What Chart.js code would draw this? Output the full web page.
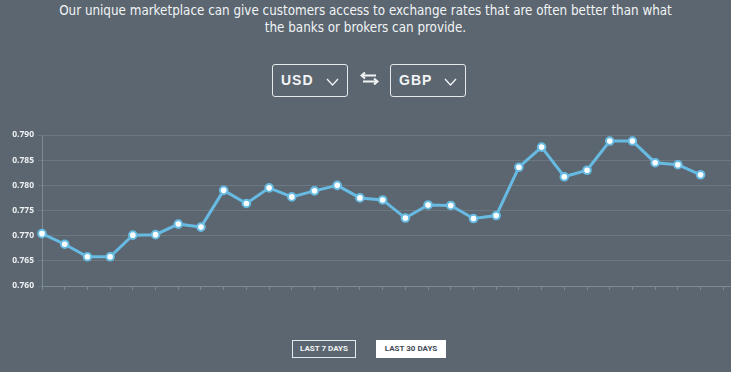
<!DOCTYPE html>
<html>
<head>
<meta charset="utf-8">
<script src="https://cdn.jsdelivr.net/npm/chart.js@4"></script>
<style>
    html, body {
        margin: 0;
        padding: 0;
        width: 731px;
        height: 372px;
        overflow: hidden;
        background: #5b6670;
        font-family: "Liberation Sans Narrow", "DejaVu Sans Condensed", sans-serif;
        color: #f2f4f5;
    }
    .intro {
        position: absolute;
        left: 0;
        top: 2px;
        width: 731px;
        text-align: center;
        font-size: 14px;
        line-height: 17px;
        transform: scaleX(0.95);
        transform-origin: 365px 0;
    }
    .picker {
        position: absolute;
        top: 64px;
        width: 74px;
        height: 31px;
        border: 1px solid #e6e9eb;
        border-radius: 3px;
        font-family: "Liberation Sans", Arial, sans-serif;
        font-weight: bold;
        font-size: 14px;
        letter-spacing: 1px;
    }
    .picker span {
        position: absolute;
        left: 8px;
        top: 7px;
    }
    .picker svg {
        position: absolute;
        left: 53px;
        top: 13px;
    }
    #swap {
        position: absolute;
        left: 360px;
        top: 72px;
    }
    .btn {
        position: absolute;
        top: 340px;
        height: 16px;
        line-height: 16px;
        text-align: center;
        font-family: Roboto, "Liberation Sans", sans-serif;
        font-weight: bold;
        font-size: 8px;
        border: 1px solid #e6e9eb;
    }
    #chartWrap {
        position: absolute;
        left: 0;
        top: 120px;
    }
</style>
</head>
<body>
<div class="intro">Our unique marketplace can give customers access to exchange rates that are often better than what<br>the banks or brokers can provide.</div>

<div class="picker" style="left:272px"><span>USD</span>
    <svg width="13" height="8" viewBox="0 0 13 8"><path d="M1 1 L6.5 7 L12 1" fill="none" stroke="#f2f4f5" stroke-width="1.3"/></svg>
</div>
<svg id="swap" width="19" height="13" viewBox="0 0 19 13">
    <path d="M3 3.5 H16" stroke="#f2f4f5" stroke-width="2" fill="none"/>
    <path d="M5 0.5 L1.5 3.5 L5 6.5" stroke="#f2f4f5" stroke-width="2" fill="none"/>
    <path d="M3 9.5 H16" stroke="#f2f4f5" stroke-width="2" fill="none"/>
    <path d="M14 6.5 L17.5 9.5 L14 12.5" stroke="#f2f4f5" stroke-width="2" fill="none"/>
</svg>
<div class="picker" style="left:390px"><span>GBP</span>
    <svg width="13" height="8" viewBox="0 0 13 8"><path d="M1 1 L6.5 7 L12 1" fill="none" stroke="#f2f4f5" stroke-width="1.3"/></svg>
</div>

<div id="chartWrap"><canvas id="rateChart" width="752" height="180"></canvas></div>

<div class="btn" style="left:292px; width:62px; color:#f2f4f5;">LAST 7 DAYS</div>
<div class="btn" style="left:376px; width:68px; background:#ffffff; border-color:#ffffff; color:#3e4a55;">LAST 30 DAYS</div>

<script>
// x categories (one day per tick, last two have no reading yet)
const days = [
    'Day 1', 'Day 2', 'Day 3', 'Day 4', 'Day 5', 'Day 6', 'Day 7', 'Day 8',
    'Day 9', 'Day 10', 'Day 11', 'Day 12', 'Day 13', 'Day 14', 'Day 15', 'Day 16',
    'Day 17', 'Day 18', 'Day 19', 'Day 20', 'Day 21', 'Day 22', 'Day 23', 'Day 24',
    'Day 25', 'Day 26', 'Day 27', 'Day 28', 'Day 29', 'Day 30', 'Day 31', 'Day 32'
];

// USD -> GBP rate
const rates = [
    0.7704, 0.7683, 0.7658, 0.7658, 0.7701, 0.7702, 0.7723, 0.7717, 0.7790, 0.7764,
    0.7795, 0.7777, 0.7789, 0.7800, 0.7775, 0.7771, 0.7735, 0.7761, 0.7760, 0.7734,
    0.7740, 0.7836, 0.7876, 0.7817, 0.7830, 0.7888, 0.7888, 0.7845, 0.7841, 0.7821,
    null, null
];

// y axis
const yMin = 0.760;
const yMax = 0.790;
const yStep = 0.005;

const gridColor = '#6c777f';
const axisColor = '#7e8a92';
const lineColor = '#67bbe3';

const ctx = document.getElementById('rateChart').getContext('2d');
const rateChart = new Chart(ctx, {
    type: 'line',
    data: {
        labels: days,
        datasets: [{
            label: 'USD/GBP',
            data: rates,
            borderColor: lineColor,
            borderWidth: 3,
            tension: 0,
            fill: false,
            pointRadius: 3.8,
            pointBorderWidth: 2,
            pointBackgroundColor: '#ffffff',
            pointBorderColor: lineColor
        }]
    },
    options: {
        responsive: false,
        animation: false,
        layout: {
            padding: { top: 15, right: 4, bottom: 10, left: 0 }
        },
        plugins: {
            legend: { display: false },
            tooltip: { enabled: false }
        },
        scales: {
            x: {
                offset: false,
                grid: {
                    drawOnChartArea: false,
                    color: axisColor,
                    tickLength: 4
                },
                border: { color: axisColor },
                ticks: { display: false, autoSkip: false }
            },
            y: {
                min: yMin,
                max: yMax,
                afterFit: (scale) => { scale.width = 42; },
                grid: {
                    color: gridColor,
                    tickLength: 4
                },
                border: { color: axisColor },
                ticks: {
                    stepSize: yStep,
                    padding: 4,
                    color: '#eef0f2',
                    font: { family: 'Open Sans', size: 8.5, weight: 'bold' },
                    callback: (v) => v.toFixed(3)
                }
            }
        }
    }
});
</script>
</body>
</html>
